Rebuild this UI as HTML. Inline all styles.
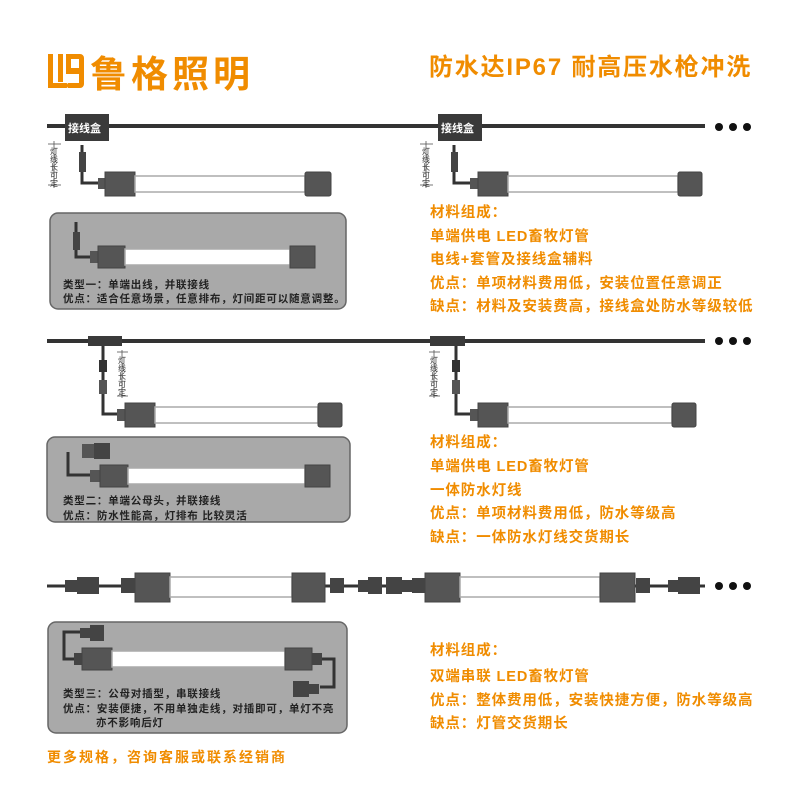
<!DOCTYPE html>
<html><head><meta charset="utf-8"><style>
body{margin:0;background:#fff}
svg{display:block}
.o{fill:#f08c00;font-family:"Liberation Sans","Noto Sans CJK SC",sans-serif;font-weight:bold}
.t{fill:#222;font-family:"Liberation Sans","Noto Sans CJK SC",sans-serif;font-weight:bold;font-size:10.5px;letter-spacing:0.8px}
.w{fill:#fff;font-family:"Liberation Sans","Noto Sans CJK SC",sans-serif;font-weight:bold;font-size:11px}
.s{fill:#333;font-family:"Liberation Sans","Noto Sans CJK SC",sans-serif;font-size:8px}
.cap{fill:#555;stroke:#444}
.tube{fill:#fff;stroke:#aaa;stroke-width:1.5}
.wire{stroke:#333;fill:none}
.box{fill:#a9a9a9;stroke:#666;stroke-width:1.5}
.r{font-size:14.5px;letter-spacing:0.9px}
</style></head><body>
<svg width="800" height="800" viewBox="0 0 800 800">
<!-- logo -->
<g fill="#f08c00">
<rect x="48" y="54" width="5" height="34"/><rect x="48" y="83" width="20" height="5" rx="2"/>
<rect x="58" y="54" width="5" height="28"/>
<path d="M66 54h14a4 4 0 0 1 4 4v26a4 4 0 0 1-4 4h-12v-5h11v-9h-13z M71 59v9h8v-9z" fill-rule="evenodd"/>
</g>
<text class="o" x="90" y="87" font-size="37" letter-spacing="4">鲁格照明</text>
<text class="o" x="429" y="75" font-size="24" letter-spacing="1.8">防水达IP67 耐高压水枪冲洗</text>

<!-- section 1 -->
<line class="wire" x1="47" y1="126" x2="705" y2="126" stroke-width="4"/>
<rect x="65" y="114" width="44" height="27" fill="#3a3a3a"/><text class="w" x="68" y="132">接线盒</text>
<rect x="438" y="114" width="44" height="27" fill="#3a3a3a"/><text class="w" x="441" y="132">接线盒</text>
<circle cx="719" cy="127" r="4" fill="#111"/><circle cx="733" cy="127" r="4" fill="#111"/><circle cx="747" cy="127" r="4" fill="#111"/>
<g stroke="#555" stroke-width="0.8"><line x1="54" y1="141" x2="54" y2="188"/><line x1="48" y1="144" x2="61" y2="144"/><line x1="48" y1="185" x2="61" y2="185"/>
<line x1="426" y1="141" x2="426" y2="188"/><line x1="420" y1="144" x2="433" y2="144"/><line x1="420" y1="185" x2="433" y2="185"/></g>
<text class="s" x="50" y="154">灯</text><text class="s" x="50" y="162">线</text><text class="s" x="50" y="170">长</text><text class="s" x="50" y="178">可</text><text class="s" x="50" y="186">定</text>
<text class="s" x="422" y="154">灯</text><text class="s" x="422" y="162">线</text><text class="s" x="422" y="170">长</text><text class="s" x="422" y="178">可</text><text class="s" x="422" y="186">定</text>
<g>
<path class="wire" d="M82 145V183H102" stroke-width="3"/><rect x="79" y="152" width="7" height="20" fill="#444"/>
<rect x="98" y="178" width="8" height="11" fill="#555"/>
<rect class="cap" x="105" y="172" width="30" height="24"/><rect class="tube" x="135" y="176" width="170" height="16"/><rect class="cap" x="305" y="172" width="26" height="24" rx="2"/>
</g>
<g>
<path class="wire" d="M454 145V183H474" stroke-width="3"/><rect x="451" y="152" width="7" height="20" fill="#444"/>
<rect x="470" y="178" width="8" height="11" fill="#555"/>
<rect class="cap" x="478" y="172" width="30" height="24"/><rect class="tube" x="508" y="176" width="170" height="16"/><rect class="cap" x="678" y="172" width="24" height="24" rx="2"/>
</g>
<rect class="box" x="50" y="213" width="296" height="96" rx="8"/>
<path class="wire" d="M76 222V257H92" stroke-width="3"/><rect x="73" y="232" width="7" height="18" fill="#444"/>
<rect x="90" y="251" width="9" height="12" fill="#555"/>
<rect class="cap" x="98" y="246" width="27" height="22"/><rect class="tube" x="125" y="249" width="165" height="16"/><rect class="cap" x="290" y="246" width="25" height="22"/>
<text class="t" x="63" y="288">类型一：单端出线，并联接线</text>
<text class="t" x="63" y="302">优点：适合任意场景，任意排布，灯间距可以随意调整。</text>
<g class="o r">
<text x="430" y="217">材料组成：</text>
<text x="430" y="241">单端供电 LED畜牧灯管</text>
<text x="430" y="264">电线+套管及接线盒辅料</text>
<text x="430" y="288">优点：单项材料费用低，安装位置任意调正</text>
<text x="430" y="311">缺点：材料及安装费高，接线盒处防水等级较低</text>
</g>

<!-- section 2 -->
<line class="wire" x1="47" y1="341" x2="705" y2="341" stroke-width="4"/>
<circle cx="719" cy="341" r="4" fill="#111"/><circle cx="733" cy="341" r="4" fill="#111"/><circle cx="747" cy="341" r="4" fill="#111"/>
<g>
<rect x="88" y="336" width="34" height="10" fill="#3a3a3a"/>
<path class="wire" d="M103 346V414H120" stroke-width="3"/>
<rect x="99" y="360" width="8" height="12" fill="#333"/><rect x="99" y="380" width="8" height="14" fill="#555"/>
<rect x="117" y="409" width="9" height="12" fill="#555"/>
<rect class="cap" x="125" y="403" width="30" height="24"/><rect class="tube" x="155" y="407" width="163" height="16"/><rect class="cap" x="318" y="403" width="24" height="24" rx="2"/>
<g stroke="#555" stroke-width="0.8"><line x1="122" y1="350" x2="122" y2="398"/><line x1="117" y1="352" x2="128" y2="352"/><line x1="117" y1="396" x2="128" y2="396"/></g>
<text class="s" x="118" y="363">灯</text><text class="s" x="118" y="371">线</text><text class="s" x="118" y="379">长</text><text class="s" x="118" y="387">可</text><text class="s" x="118" y="395">定</text>
</g>
<g>
<rect x="430" y="336" width="35" height="10" fill="#3a3a3a"/>
<path class="wire" d="M456 346V414H472" stroke-width="3"/>
<rect x="452" y="360" width="8" height="12" fill="#333"/><rect x="452" y="380" width="8" height="14" fill="#555"/>
<rect x="470" y="409" width="9" height="12" fill="#555"/>
<rect class="cap" x="478" y="403" width="30" height="24"/><rect class="tube" x="508" y="407" width="164" height="16"/><rect class="cap" x="672" y="403" width="24" height="24" rx="2"/>
<g stroke="#555" stroke-width="0.8"><line x1="434" y1="350" x2="434" y2="398"/><line x1="429" y1="352" x2="440" y2="352"/><line x1="429" y1="396" x2="440" y2="396"/></g>
<text class="s" x="430" y="363">灯</text><text class="s" x="430" y="371">线</text><text class="s" x="430" y="379">长</text><text class="s" x="430" y="387">可</text><text class="s" x="430" y="395">定</text>
</g>
<rect class="box" x="47" y="437" width="303" height="85" rx="8"/>
<path class="wire" d="M68 452V475H90" stroke-width="3"/>
<rect x="82" y="444" width="12" height="14" fill="#555"/><rect x="94" y="443" width="16" height="16" fill="#444"/>
<rect x="90" y="470" width="10" height="12" fill="#555"/>
<rect class="cap" x="100" y="465" width="28" height="22"/><rect class="tube" x="128" y="468" width="177" height="16"/><rect class="cap" x="305" y="465" width="25" height="22"/>
<text class="t" x="63" y="504">类型二：单端公母头，并联接线</text>
<text class="t" x="63" y="519">优点：防水性能高，灯排布 比较灵活</text>
<g class="o r">
<text x="430" y="447">材料组成：</text>
<text x="430" y="471">单端供电 LED畜牧灯管</text>
<text x="430" y="495">一体防水灯线</text>
<text x="430" y="518">优点：单项材料费用低，防水等级高</text>
<text x="430" y="542">缺点：一体防水灯线交货期长</text>
</g>

<!-- section 3 -->
<line class="wire" x1="47" y1="586" x2="705" y2="586" stroke-width="3"/>
<g fill="#444">
<rect x="65" y="580" width="12" height="12"/><rect x="77" y="577" width="22" height="17"/>
<rect x="121" y="578" width="14" height="15"/>
<rect x="330" y="578" width="14" height="15"/><rect x="358" y="580" width="10" height="12"/><rect x="368" y="577" width="14" height="17"/>
<rect x="386" y="577" width="16" height="17"/><rect x="402" y="580" width="10" height="12"/>
<rect x="412" y="578" width="14" height="15"/>
<rect x="636" y="578" width="14" height="15"/><rect x="668" y="580" width="10" height="12"/><rect x="678" y="577" width="22" height="17"/>
</g>
<rect class="cap" x="135" y="573" width="35" height="29"/><rect class="tube" x="170" y="577" width="122" height="20"/><rect class="cap" x="292" y="573" width="33" height="29"/>
<rect class="cap" x="425" y="573" width="35" height="29"/><rect class="tube" x="460" y="577" width="140" height="20"/><rect class="cap" x="600" y="573" width="35" height="29"/>
<circle cx="719" cy="586" r="4" fill="#111"/><circle cx="733" cy="586" r="4" fill="#111"/><circle cx="747" cy="586" r="4" fill="#111"/>
<rect class="box" x="48" y="622" width="299" height="111" rx="8"/>
<path class="wire" d="M80 632H64V659H80" stroke-width="3"/>
<path class="wire" d="M318 659H334V687H320" stroke-width="3"/>
<g fill="#444">
<rect x="80" y="628" width="10" height="10"/><rect x="90" y="625" width="14" height="16"/>
<rect x="74" y="653" width="10" height="12"/>
<rect x="312" y="653" width="10" height="12"/>
<rect x="293" y="681" width="16" height="16"/><rect x="309" y="684" width="10" height="10"/>
</g>
<rect class="cap" x="82" y="648" width="30" height="22"/><rect class="tube" x="112" y="651" width="173" height="16"/><rect class="cap" x="285" y="648" width="27" height="22"/>
<text class="t" x="63" y="697">类型三：公母对插型，串联接线</text>
<text class="t" x="63" y="712">优点：安装便捷，不用单独走线，对插即可，单灯不亮</text>
<text class="t" x="96" y="726">亦不影响后灯</text>
<g class="o r">
<text x="430" y="655">材料组成：</text>
<text x="430" y="681">双端串联 LED畜牧灯管</text>
<text x="430" y="705">优点：整体费用低，安装快捷方便，防水等级高</text>
<text x="430" y="728">缺点：灯管交货期长</text>
</g>
<text class="o" x="47" y="762" font-size="14" letter-spacing="2" font-weight="normal">更多规格，咨询客服或联系经销商</text>
</svg>
</body></html>
